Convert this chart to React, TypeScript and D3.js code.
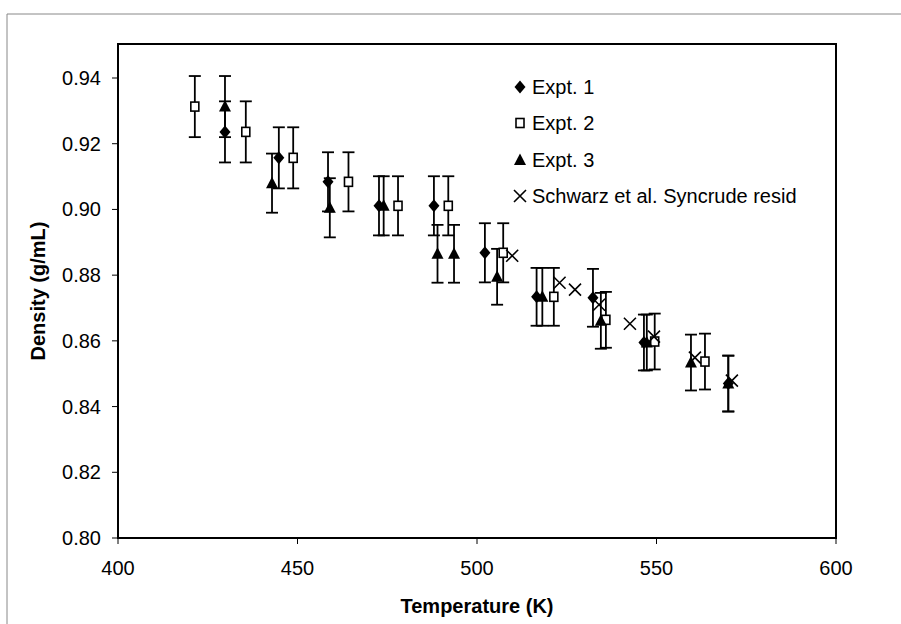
import React from "react";
import * as d3 from "d3";

const expt1T = [429.8, 444.8, 458.5, 472.7, 488.0, 502.2, 516.6, 532.3, 546.5, 570.0];
const expt1D = [0.9236, 0.9157, 0.9084, 0.9011, 0.9011, 0.8868, 0.8734, 0.8731, 0.8595, 0.847];
const expt1E = [0.0093, 0.0093, 0.009, 0.009, 0.009, 0.009, 0.0088, 0.0088, 0.0085, 0.0085];

const expt2T = [421.4, 435.6, 448.8, 464.2, 478.0, 492.0, 507.3, 521.4, 535.9, 549.5, 563.5];
const expt2D = [0.9313, 0.9236, 0.9157, 0.9084, 0.9011, 0.9011, 0.8868, 0.8734, 0.8664, 0.8598, 0.8537];
const expt2E = [0.0093, 0.0093, 0.0093, 0.009, 0.009, 0.009, 0.009, 0.0088, 0.0085, 0.0085, 0.0085];

const expt3T = [429.8, 442.9, 459.0, 474.0, 489.0, 493.6, 505.6, 518.2, 534.5, 547.3, 559.6, 570.0];
const expt3D = [0.9313, 0.908, 0.9005, 0.9011, 0.8865, 0.8865, 0.8795, 0.8734, 0.8661, 0.8595, 0.8534, 0.847];
const expt3E = [0.0093, 0.009, 0.009, 0.009, 0.0088, 0.0088, 0.0085, 0.0088, 0.0085, 0.0085, 0.0085, 0.0085];

const schwarzT = [509.8, 523.0, 527.3, 534.0, 542.6, 549.3, 560.7, 571.0];
const schwarzD = [0.8859, 0.8777, 0.8756, 0.871, 0.8652, 0.8613, 0.8549, 0.8479];

const xTicks = [400, 450, 500, 550, 600];
const yTicks = [0.8, 0.82, 0.84, 0.86, 0.88, 0.9, 0.92, 0.94];
const legendLabels = ["Expt. 1", "Expt. 2", "Expt. 3", "Schwarz et al. Syncrude resid"];
const xTitle = "Temperature (K)";
const yTitle = "Density (g/mL)";

const W = 901;
const H = 624;
const L = 118, R = 836, T = 44, B = 538;
const FONT = "'Liberation Sans', Arial, sans-serif";

const x = d3.scaleLinear().domain([400, 600]).range([L, R]);
const y = d3.scaleLinear().domain([0.94, 0.8]).range([78, B]);

function Marker({ kind, cx, cy }: { kind: string; cx: number; cy: number }) {
  if (kind === "diamond") {
    return <path d={`M${cx},${cy - 6.5} L${cx + 5.5},${cy} L${cx},${cy + 6.5} L${cx - 5.5},${cy} Z`} fill="#000" />;
  }
  if (kind === "square") {
    return <rect x={cx - 4} y={cy - 4.5} width={8} height={9} fill="#fff" stroke="#000" strokeWidth={1.6} />;
  }
  if (kind === "triangle") {
    return <path d={`M${cx},${cy - 6.5} L${cx + 6},${cy + 5} L${cx - 6},${cy + 5} Z`} fill="#000" />;
  }
  return (
    <path
      d={`M${cx - 6},${cy - 6} L${cx + 6},${cy + 6} M${cx + 6},${cy - 6} L${cx - 6},${cy + 6}`}
      stroke="#000"
      strokeWidth={1.6}
      fill="none"
    />
  );
}

function ErrBars({ ts, ds, es }: { ts: number[]; ds: number[]; es: number[] }) {
  return (
    <g stroke="#000" strokeWidth={1.8}>
      {ts.map((t, i) => {
        const cx = x(t);
        const y1 = y(ds[i] + es[i]);
        const y2 = y(ds[i] - es[i]);
        return (
          <g key={i}>
            <line x1={cx} x2={cx} y1={y1} y2={y2} />
            <line x1={cx - 6} x2={cx + 6} y1={y1} y2={y1} />
            <line x1={cx - 6} x2={cx + 6} y1={y2} y2={y2} />
          </g>
        );
      })}
    </g>
  );
}

export default function App() {
  const series = [
    { kind: "diamond", ts: expt1T, ds: expt1D },
    { kind: "square", ts: expt2T, ds: expt2D },
    { kind: "triangle", ts: expt3T, ds: expt3D },
    { kind: "x", ts: schwarzT, ds: schwarzD },
  ];
  const legendY = [87, 123, 160, 196];
  return (
    <svg
      width={W}
      height={H}
      style={{ position: "absolute", left: 0, top: 0, background: "#fff" }}
      fontFamily={FONT}
    >
      <rect x={0} y={0} width={W} height={H} fill="#fff" />
      {/* page frame */}
      <path d={`M7,${H} L7,14 L901,14`} fill="none" stroke="#888" strokeWidth={1} />
      {/* plot frame */}
      <rect x={L} y={T} width={R - L} height={B - T} fill="none" stroke="#000" strokeWidth={2} />

      {/* y ticks */}
      {yTicks.map((v) => (
        <g key={v}>
          <line x1={L - 6} x2={L} y1={y(v)} y2={y(v)} stroke="#000" strokeWidth={1} />
          <text x={L - 17} y={y(v) + 7} textAnchor="end" fontSize={20} fill="#000">
            {d3.format(".2f")(v)}
          </text>
        </g>
      ))}
      {/* x ticks */}
      {xTicks.map((v) => (
        <g key={v}>
          <line x1={x(v)} x2={x(v)} y1={B} y2={B + 6} stroke="#000" strokeWidth={1} />
          <text x={x(v)} y={575} textAnchor="middle" fontSize={20} fill="#000">
            {v}
          </text>
        </g>
      ))}

      <text x={x(500)} y={613} textAnchor="middle" fontSize={20} fontWeight="bold" fill="#000">
        {xTitle}
      </text>
      <text
        transform={`translate(45,${(T + B) / 2}) rotate(-90)`}
        textAnchor="middle"
        fontSize={20}
        fontWeight="bold"
        fill="#000"
      >
        {yTitle}
      </text>

      <ErrBars ts={expt1T} ds={expt1D} es={expt1E} />
      <ErrBars ts={expt2T} ds={expt2D} es={expt2E} />
      <ErrBars ts={expt3T} ds={expt3D} es={expt3E} />

      {series.map((s) => (
        <g key={s.kind}>
          {s.ts.map((t, i) => (
            <Marker key={i} kind={s.kind} cx={x(t)} cy={y(s.ds[i])} />
          ))}
        </g>
      ))}

      {/* legend */}
      {series.map((s, i) => (
        <g key={"lg" + i}>
          <Marker kind={s.kind} cx={520} cy={legendY[i]} />
          <text x={532} y={legendY[i] + 7} fontSize={20} fill="#000">
            {legendLabels[i]}
          </text>
        </g>
      ))}
    </svg>
  );
}
